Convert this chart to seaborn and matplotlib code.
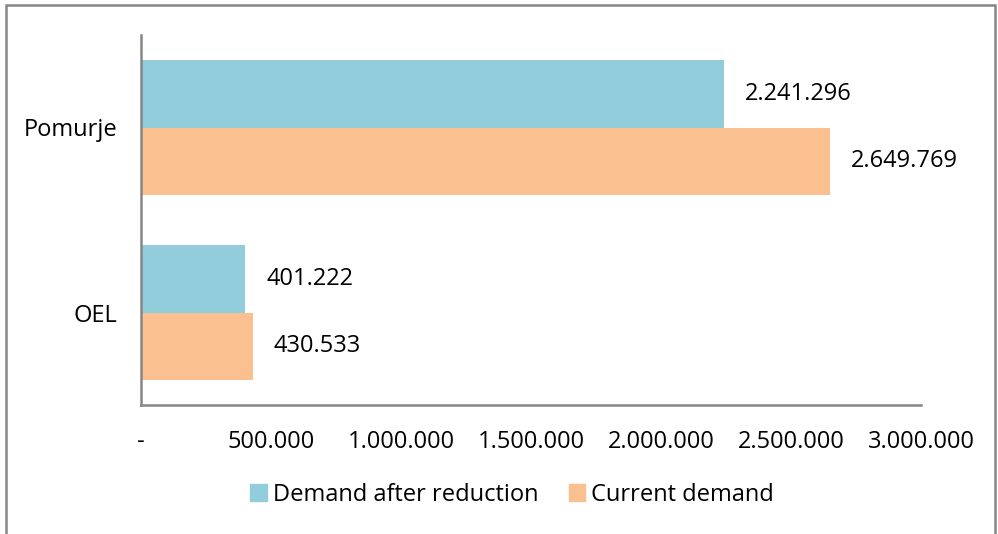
import matplotlib
matplotlib.use('Agg')
import matplotlib.pyplot as plt
import matplotlib.ticker as mticker
from matplotlib.patches import Rectangle
import seaborn as sns
import pandas as pd

# Energy demand per region, before/after reduction
regions = ['Pomurje', 'OEL']
series = ['Demand after reduction', 'Current demand']
after_reduction = [2241296, 401222]
current = [2649769, 430533]
colors = ['#92CDDC', '#FAC090']
xticks = [0, 500000, 1000000, 1500000, 2000000, 2500000, 3000000]

df = pd.DataFrame({
    'region': regions * 2,
    'series': [series[0]] * len(regions) + [series[1]] * len(regions),
    'value': after_reduction + current,
})

sns.set_style('white')
plt.rcParams['font.family'] = ['Open Sans', 'DejaVu Sans']
plt.rcParams['text.color'] = 'black'
plt.rcParams['xtick.color'] = 'black'
plt.rcParams['ytick.color'] = 'black'
fs = 17

def dotted(v):
    return f'{v:,.0f}'.replace(',', '.')

fig = plt.figure(figsize=(9.98, 5.34), dpi=100)
ax = fig.add_axes([141 / 998, 1 - 405 / 534, 780 / 998, 370 / 534])

sns.barplot(data=df, y='region', x='value', hue='series', order=regions,
            hue_order=series, palette=colors, orient='h', width=0.725,
            saturation=1, linewidth=0, ax=ax, legend=False)

for cont in ax.containers:
    ax.bar_label(cont, labels=[dotted(v) for v in cont.datavalues],
                 padding=15, fontsize=fs, color='black')

ax.set_xlim(0, 3000000)
ax.set_xticks(xticks)
ax.xaxis.set_major_formatter(mticker.FuncFormatter(lambda v, p: '-' if v == 0 else dotted(v)))
ax.set_xlabel('')
ax.set_ylabel('')
ax.tick_params(axis='x', length=0, pad=18, labelsize=fs, labelcolor='black')
ax.tick_params(axis='y', length=0, pad=17, labelsize=fs, labelcolor='black')

for s in ['top', 'right']:
    ax.spines[s].set_visible(False)
for s in ['left', 'bottom']:
    ax.spines[s].set_color('#868686')
    ax.spines[s].set_linewidth(1.8)

handles = [Rectangle((0, 0), 1, 1, color=c) for c in colors]
fig.legend(handles, series, loc='center', bbox_to_anchor=(0.513, 0.073), ncol=2,
           frameon=False, fontsize=fs, handlelength=0.7, handleheight=0.7,
           handletextpad=0.25, columnspacing=1.3, labelcolor='black')

# outer chart frame
fig.patches.append(Rectangle((6 / 998, -0.05), 989 / 998, 1.05 - 5 / 534,
                             transform=fig.transFigure, fill=False,
                             edgecolor='#868686', linewidth=1.8))

fig.savefig('out.png', dpi=100)
